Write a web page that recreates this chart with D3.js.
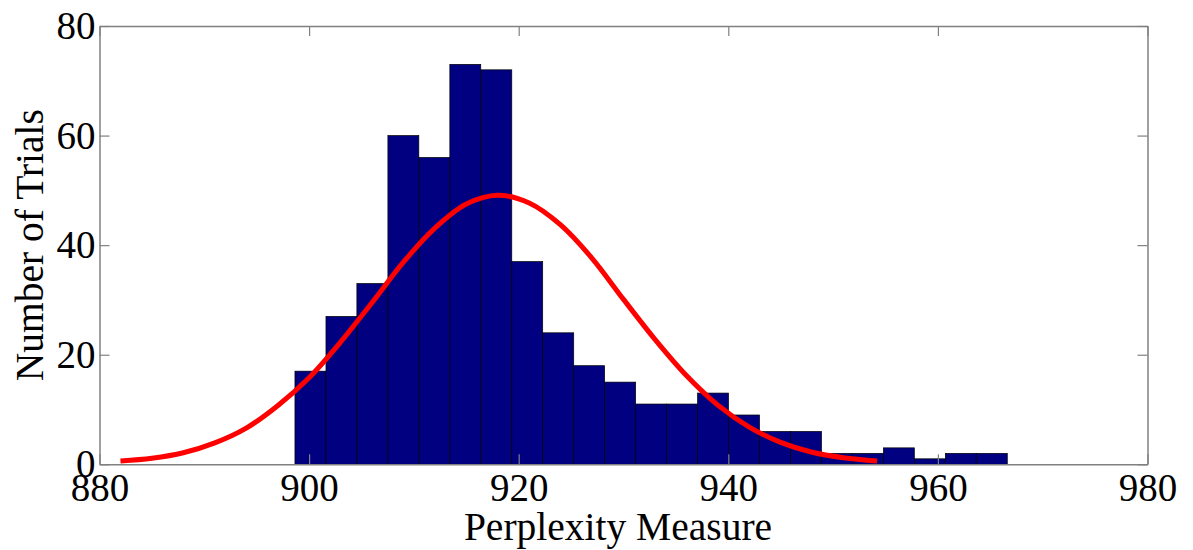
<!DOCTYPE html>
<html><head><meta charset="utf-8">
<script src="https://cdn.jsdelivr.net/npm/d3@7"></script>
<style>body{margin:0;background:#fff} text{font-family:"Liberation Serif","Times New Roman",serif;fill:#000}</style>
</head><body><svg id="c" width="1193" height="550"></svg>
<script>
// Histogram bin edges (Perplexity Measure)
const binEdges = [898.65, 901.61, 904.56, 907.52, 910.47, 913.43, 916.38, 919.34, 922.29, 925.25,
  928.20, 931.16, 934.11, 937.07, 940.02, 942.98, 945.93, 948.89, 951.84, 954.80, 957.75,
  960.71, 963.66, 966.62];
// Number of trials in each bin
const counts = [17, 27, 33, 60, 56, 73, 72, 37, 24, 18, 15, 11, 11, 13, 9, 6, 6, 2, 2, 3, 1, 2, 2];
// Fitted curve points
const fitX = [882, 885, 888, 891, 894, 897, 900, 903, 906, 909, 912, 915, 918, 921, 924, 927, 930,
  933, 936, 939, 942, 945, 948, 951, 954.2];
const fitY = [0.6, 1.1, 2.1, 3.9, 6.6, 10.7, 15.8, 22.3, 29.5, 36.9, 43.1, 47.5, 49.1, 47.7, 43.7,
  37.6, 30.1, 22.8, 16.2, 10.8, 6.8, 4.0, 2.2, 1.2, 0.6];
const xTicks = [880, 900, 920, 940, 960, 980];
const yTicks = [0, 20, 40, 60, 80];
const xLabel = "Perplexity Measure";
const yLabel = "Number of Trials";

const svg = d3.select("#c");
const L = 99.5, R = 1147.5, T = 26, B = 464.3;
const x = d3.scaleLinear().domain([880, 980]).range([L, R]);
const y = d3.scaleLinear().domain([0, 80]).range([B, T]);
const FS = 39, LFS = 39.5;

svg.append("g").selectAll("rect").data(counts).join("rect")
  .attr("x", (d, i) => x(binEdges[i]))
  .attr("width", (d, i) => x(binEdges[i + 1]) - x(binEdges[i]))
  .attr("y", d => y(d))
  .attr("height", d => y(0) - y(d))
  .attr("fill", "#000080").attr("stroke", "#000").attr("stroke-width", 0.7);

const line = d3.line().x((d, i) => x(fitX[i])).y(d => y(d)).curve(d3.curveCatmullRom);
svg.append("path").datum(fitY).attr("d", line)
  .attr("fill", "none").attr("stroke", "#ff0000").attr("stroke-width", 5).attr("stroke-linecap", "butt");

function style(g, showText) {
  g.selectAll("path.domain").attr("stroke", "#808080").attr("stroke-width", 1.5);
  g.selectAll(".tick line").attr("stroke", "#808080").attr("stroke-width", 1.2);
  g.selectAll(".tick text").attr("font-size", FS).attr("font-family", "Liberation Serif").attr("fill", "#000");
  if (!showText) g.selectAll(".tick text").remove();
}
const gB = svg.append("g").attr("transform", `translate(0,${B})`)
  .call(d3.axisBottom(x).tickValues(xTicks).tickSizeInner(-10).tickSizeOuter(0).tickPadding(9).tickFormat(d3.format("d")));
style(gB, true);
const gT = svg.append("g").attr("transform", `translate(0,${T})`)
  .call(d3.axisTop(x).tickValues(xTicks).tickSizeInner(-10).tickSizeOuter(0));
style(gT, false);
const gL = svg.append("g").attr("transform", `translate(${L},0)`)
  .call(d3.axisLeft(y).tickValues(yTicks).tickSizeInner(-10).tickSizeOuter(0).tickPadding(4).tickFormat(d3.format("d")));
style(gL, true);
const gR = svg.append("g").attr("transform", `translate(${R},0)`)
  .call(d3.axisRight(y).tickValues(yTicks).tickSizeInner(-10).tickSizeOuter(0));
style(gR, false);

svg.append("text").attr("x", 618).attr("y", 540).attr("text-anchor", "middle")
  .attr("font-size", LFS).text(xLabel);
svg.append("text").attr("transform", `translate(43,${(T + B) / 2}) rotate(-90)`).attr("text-anchor", "middle")
  .attr("font-size", LFS).text(yLabel);
</script></body></html>
